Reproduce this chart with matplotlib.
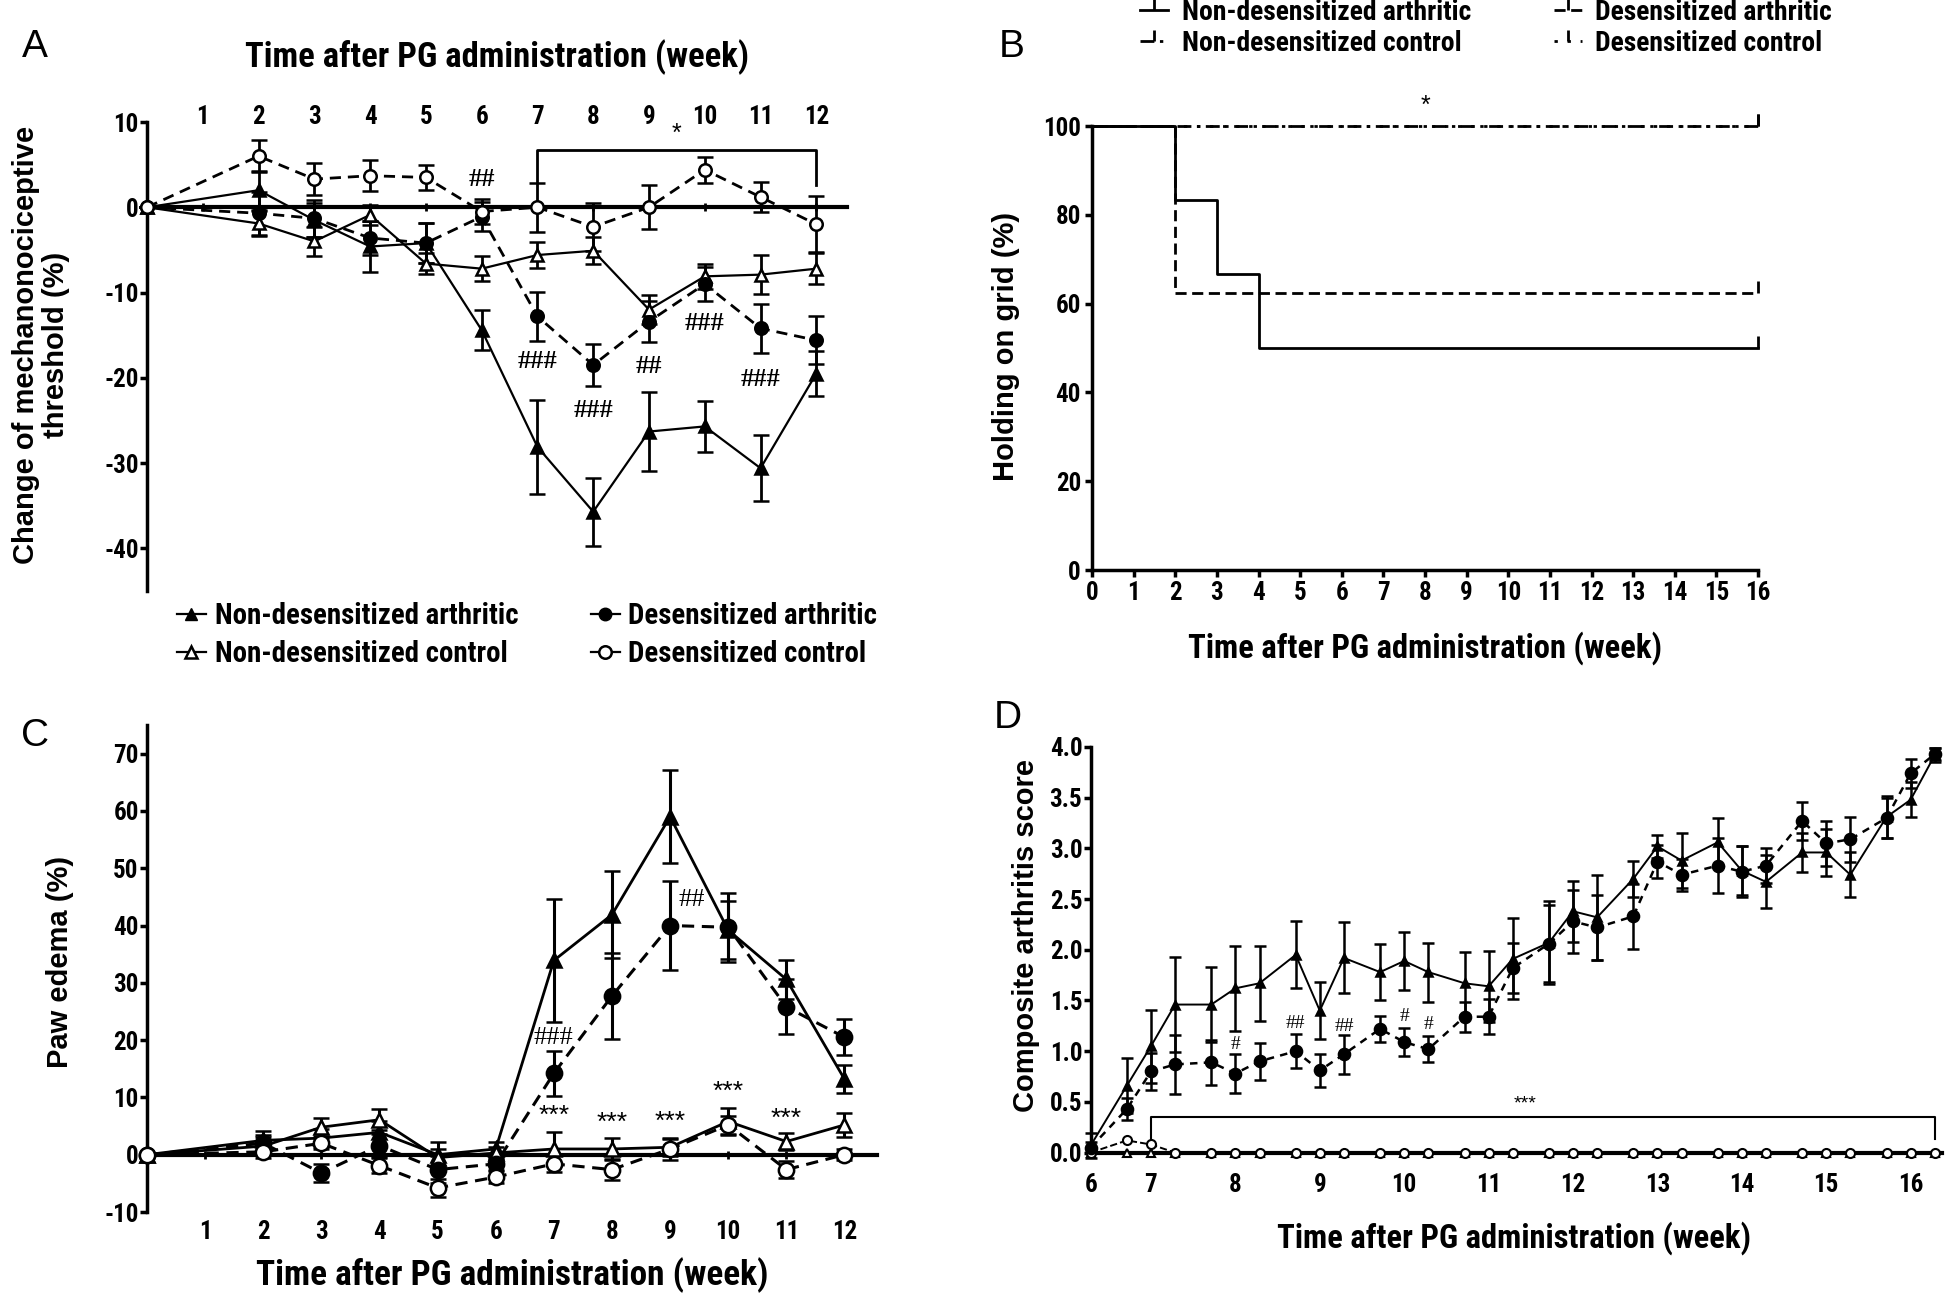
import matplotlib
matplotlib.use("Agg")
import matplotlib.pyplot as plt
from matplotlib import font_manager as fm
from matplotlib.lines import Line2D

# the figure uses a condensed bold face for numbers and axis titles; use one if installed
NARROW = None
for name in ["Liberation Sans Narrow", "Roboto Condensed", "Open Sans Condensed", "Arial Narrow"]:
    try:
        fm.findfont(fm.FontProperties(family=name, weight="bold"), fallback_to_default=False)
        NARROW = name
        break
    except ValueError:
        pass

MAIN = ([NARROW] if NARROW else []) + ["Liberation Sans", "DejaVu Sans"]
K = 1.12 if NARROW else 1.0
LEG_WEIGHT = "bold" if NARROW else "normal"

plt.rcParams["font.family"] = MAIN
plt.rcParams["font.weight"] = "bold"
plt.rcParams["font.size"] = 18
plt.rcParams["axes.unicode_minus"] = False

WIDE = ["Liberation Sans", "DejaVu Sans"]
SERIF = ["Liberation Serif", "DejaVu Serif"]

# ---------------- data: panel A (mechanonociceptive threshold, %) ----------------
weeks = [0, 2, 3, 4, 5, 6, 7, 8, 9, 10, 11, 12]
week_labels = [1, 2, 3, 4, 5, 6, 7, 8, 9, 10, 11, 12]

a_nda = [0, 2.0, -1.5, -4.6, -4.2, -14.4, -28.1, -35.7, -26.3, -25.7, -30.6, -19.5]
a_nda_err = [0, 2.3, 2.0, 3.0, 2.3, 2.3, 5.5, 4.0, 4.6, 3.0, 3.9, 2.6]
a_ndc = [0, -1.9, -4.0, -0.9, -6.6, -7.2, -5.6, -5.1, -12.0, -8.1, -7.9, -7.2]
a_ndc_err = [0, 1.5, 1.7, 1.2, 1.2, 1.5, 1.5, 1.6, 1.7, 1.5, 2.3, 1.8]
a_da = [0, -0.7, -1.3, -3.6, -4.2, -1.1, -12.8, -18.5, -13.4, -9.0, -14.2, -15.6]
a_da_err = [0, 2.5, 2.2, 2.0, 2.3, 1.7, 2.9, 2.5, 2.4, 2.0, 2.9, 2.8]
a_dc = [0, 6.0, 3.3, 3.7, 3.5, -0.5, 0.0, -2.3, 0.0, 4.4, 1.2, -2.0]
a_dc_err = [0, 1.9, 1.9, 1.8, 1.5, 1.5, 2.9, 2.8, 2.6, 1.5, 1.8, 3.3]

a_marks = [("##", 6, 3.2), ("###", 7, -18.1), ("###", 8, -23.8), ("##", 9, -18.7),
           ("###", 10, -13.6), ("###", 11, -20.2)]

# ---------------- data: panel B (holding on grid, %) ----------------
b_nda_t = [0, 2, 3, 4, 16]
b_nda_v = [100, 83.3, 66.7, 50, 50]
b_da_t = [0, 2, 16]
b_da_v = [100, 62.5, 62.5]
b_ndc_t = [0, 16]
b_ndc_v = [100, 100]
b_dc_t = [0, 16]
b_dc_v = [100, 100]
b_weeks = list(range(0, 17))

# ---------------- data: panel C (paw edema, %) ----------------
c_nda = [0, 2.5, 2.9, 3.9, 0.0, 1.0, 33.9, 41.9, 59.0, 39.2, 30.6, 13.2]
c_nda_err = [0, 1.6, 1.5, 2.0, 2.3, 1.3, 10.8, 7.6, 8.1, 5.0, 3.4, 2.5]
c_ndc = [0, 1.5, 4.8, 6.1, -0.5, 0.3, 1.0, 1.0, 1.3, 5.8, 2.3, 5.2]
c_ndc_err = [0, 1.6, 1.6, 1.8, 1.5, 1.0, 2.9, 1.9, 1.5, 2.3, 1.5, 2.1]
c_da = [0, 2.0, -3.2, 1.6, -2.6, -1.6, 14.2, 27.7, 40.0, 39.7, 25.8, 20.5]
c_da_err = [0, 1.5, 1.5, 2.0, 2.3, 1.0, 3.9, 7.5, 7.8, 6.0, 4.8, 3.1]
c_dc = [0, 0.5, 2.0, -1.9, -5.8, -3.9, -1.6, -2.6, 1.0, 5.2, -2.6, 0.0]
c_dc_err = [0, 1.0, 1.0, 1.3, 1.5, 1.0, 1.5, 1.9, 2.0, 1.5, 1.5, 1.0]

c_marks = [("###", 7, 20.3, SERIF), ("##", 9.37, 44.5, SERIF),
           ("***", 7, 6.8, WIDE), ("***", 8, 5.5, WIDE), ("***", 9, 5.8, WIDE),
           ("***", 10, 11.0, WIDE), ("***", 11, 6.3, WIDE)]

# ---------------- data: panel D (composite arthritis score) ----------------
d_days = [42, 45, 47, 49, 52, 54, 56, 59, 61, 63, 66, 68, 70, 73, 75, 77,
          80, 82, 84, 87, 89, 91, 94, 96, 98, 101, 103, 105, 108, 110, 112]
d_tick_days = [42, 47, 54, 61, 68, 75, 82, 89, 96, 103, 110]
d_tick_labels = ["6", "7", "8", "9", "10", "11", "12", "13", "14", "15", "16"]

d_nda = [0.07, 0.66, 1.05, 1.46, 1.46, 1.62, 1.67, 1.95, 1.40, 1.92, 1.78, 1.89, 1.78, 1.67, 1.64, 1.91,
         2.07, 2.38, 2.32, 2.70, 3.02, 2.88, 3.06, 2.78, 2.67, 2.96, 2.96, 2.74, 3.31, 3.48, 3.92]
d_nda_err = [0.12, 0.27, 0.36, 0.47, 0.37, 0.42, 0.37, 0.33, 0.28, 0.35, 0.28, 0.29, 0.29, 0.31, 0.35, 0.40,
             0.41, 0.30, 0.42, 0.18, 0.11, 0.27, 0.24, 0.24, 0.26, 0.19, 0.23, 0.22, 0.21, 0.17, 0.07]
d_da = [0.05, 0.43, 0.80, 0.87, 0.89, 0.78, 0.90, 1.00, 0.81, 0.97, 1.22, 1.09, 1.02, 1.34, 1.34, 1.82,
        2.06, 2.28, 2.22, 2.33, 2.87, 2.74, 2.83, 2.77, 2.83, 3.27, 3.05, 3.09, 3.30, 3.74, 3.93]
d_da_err = [0.05, 0.11, 0.18, 0.29, 0.22, 0.19, 0.18, 0.17, 0.16, 0.19, 0.13, 0.14, 0.13, 0.15, 0.17, 0.25,
            0.38, 0.31, 0.32, 0.32, 0.16, 0.16, 0.27, 0.25, 0.17, 0.19, 0.22, 0.22, 0.20, 0.14, 0.06]
d_ndc = [0, 0, 0, 0, 0, 0, 0, 0, 0, 0, 0, 0, 0, 0, 0, 0,
         0, 0, 0, 0, 0, 0, 0, 0, 0, 0, 0, 0, 0, 0, 0]
d_dc = [0, 0.12, 0.08, 0, 0, 0, 0, 0, 0, 0, 0, 0, 0, 0, 0, 0,
        0, 0, 0, 0, 0, 0, 0, 0, 0, 0, 0, 0, 0, 0, 0]

d_marks = [("#", 54, 1.07), ("##", 59, 1.27), ("##", 63, 1.24), ("#", 68, 1.34), ("#", 70, 1.26)]

W, H = 1945, 1300
fig = plt.figure(figsize=(W / 100, H / 100), dpi=100)


def box(x0, x1, y_top, y_bot):
    # pixel rectangle -> figure fraction
    return [x0 / W, 1 - y_bot / H, (x1 - x0) / W, (y_bot - y_top) / H]


def series(ax, x, y, err, fmt, filled, ms, lw, elw, cap, dashes=None):
    kw = dict(fmt=fmt, color="black", ecolor="black", mec="black",
              mfc="black" if filled else "white", ms=ms, mew=1.8, lw=lw,
              elinewidth=elw, capsize=cap, capthick=elw, clip_on=False, zorder=3)
    if dashes:
        kw["dashes"] = dashes
    return ax.errorbar(x, y, yerr=err, **kw)


def label(x, y, text, **kw):
    fig.text(x / W, 1 - y / H, text, ha="center", va="center", **kw)


XL = 21 * K      # axis titles
LEG = 20 * K     # legend text

# ================= Panel A =================
axA = fig.add_axes(box(147, 847, 122, 591))
axA.set_xlim(0, 12.55)
axA.set_ylim(-45, 10)
for s in ("top", "right"):
    axA.spines[s].set_visible(False)
axA.spines["bottom"].set_position(("data", 0))
axA.spines["bottom"].set_linewidth(3)
axA.spines["left"].set_linewidth(2.5)
axA.set_xticks(week_labels)
axA.tick_params(axis="x", direction="inout", length=6, width=2, labelbottom=False)
axA.set_yticks([10, 0, -10, -20, -30, -40])
axA.tick_params(axis="y", length=5, width=2.5, pad=1)
topA = axA.secondary_xaxis("top")
topA.set_xticks(week_labels)
topA.tick_params(length=0, pad=-5)
topA.spines["top"].set_visible(False)

series(axA, weeks, a_nda, a_nda_err, "-^", True, 9, 1.6, 2, 6)
series(axA, weeks, a_ndc, a_ndc_err, "-^", False, 9, 1.6, 2, 6)
series(axA, weeks, a_da, a_da_err, "--o", True, 9, 2, 2, 6, dashes=(4, 2.5))
series(axA, weeks, a_dc, a_dc_err, "--o", False, 9, 2, 2, 6, dashes=(4, 2.5))

for txt, x, y in a_marks:
    axA.text(x, y, txt, ha="center", va="center", family=SERIF, size=19)
axA.plot([7, 7, 12, 12], [3.0, 6.7, 6.7, 2.6], color="black", lw=2)
axA.text(9.5, 8.6, "*", ha="center", va="center", family=WIDE, weight="normal", size=18)

label(497, 57, "Time after PG administration (week)", size=XL * 1.06)
label(41, 345, "Change of mechanonociceptive\nthreshold (%)", rotation=90, family=WIDE,
      size=21, linespacing=1.1)
label(35, 47, "A", family=WIDE, weight="normal", size=28)

legA = [Line2D([], [], color="black", marker="^", mfc="black", ms=9, lw=1.6),
        Line2D([], [], color="black", marker="^", mfc="white", mew=1.8, ms=9, lw=1.6),
        Line2D([], [], color="black", marker="o", mfc="black", ms=9, lw=1.6),
        Line2D([], [], color="black", marker="o", mfc="white", mew=1.8, ms=9, lw=1.6)]
fig.legend(legA, ["Non-desensitized arthritic", "Non-desensitized control",
                  "Desensitized arthritic", "Desensitized control"],
           loc="upper left", bbox_to_anchor=(177 / W, 1 - 602 / H), ncol=2, frameon=False,
           prop={"family": MAIN, "weight": LEG_WEIGHT, "size": LEG * 0.93},
           handlelength=1.0, handletextpad=0.3, columnspacing=2.5, labelspacing=0.36,
           borderpad=0, borderaxespad=0)

# ================= Panel B =================
axB = fig.add_axes(box(1092, 1758, 126, 570))
axB.set_xlim(0, 16)
axB.set_ylim(0, 100)
for s in ("top", "right"):
    axB.spines[s].set_visible(False)
for s in ("left", "bottom"):
    axB.spines[s].set_linewidth(2.5)
axB.set_xticks(b_weeks)
axB.set_yticks([0, 20, 40, 60, 80, 100])
axB.tick_params(length=5, width=2.5, pad=3)

dash_nda, dash_da, dash_ndc, dash_dc = None, (4, 2), (5, 2, 1.2, 2), (1.2, 3.5)
for t, v, dash in [(b_nda_t, b_nda_v, dash_nda), (b_da_t, b_da_v, dash_da),
                   (b_ndc_t, b_ndc_v, dash_ndc), (b_dc_t, b_dc_v, dash_dc)]:
    kw = dict(color="black", lw=2, where="post", clip_on=False, zorder=3)
    if dash:
        kw["dashes"] = dash
    axB.step(t, v, **kw)
    axB.plot(t[-1], v[-1], marker=2, ms=9, mew=2, color="black", clip_on=False)
axB.text(8, 104.5, "*", ha="center", va="center", family=WIDE, weight="normal", size=18)

label(1425, 648, "Time after PG administration (week)", size=XL)
label(1006, 346, "Holding on grid (%)", rotation=90, family=WIDE, size=21)
label(1012, 47, "B", family=WIDE, weight="normal", size=28)

legB = []
for dash in (dash_nda, dash_da, dash_ndc, dash_dc):
    h = Line2D([], [], color="black", lw=2, marker=2, ms=8, mew=2)
    if dash:
        h.set_dashes(dash)
    legB.append(h)
fig.legend([legB[0], legB[2], legB[1], legB[3]],
           ["Non-desensitized arthritic", "Non-desensitized control",
            "Desensitized arthritic", "Desensitized control"],
           loc="upper left", bbox_to_anchor=(1140 / W, 1 + 1 / H), ncol=2, frameon=False,
           prop={"family": MAIN, "weight": LEG_WEIGHT, "size": LEG * 0.89},
           handlelength=1.0, handletextpad=0.5, columnspacing=3.0, labelspacing=0.14,
           borderpad=0, borderaxespad=0)

# ================= Panel C =================
axC = fig.add_axes(box(147, 877, 725, 1212))
axC.set_xlim(0, 12.56)
axC.set_ylim(-10, 75)
for s in ("top", "right"):
    axC.spines[s].set_visible(False)
axC.spines["bottom"].set_position(("data", 0))
axC.spines["bottom"].set_linewidth(3)
axC.spines["left"].set_linewidth(2.5)
axC.set_xticks(week_labels)
axC.tick_params(axis="x", direction="inout", length=6, width=2, labelbottom=False)
axC.set_yticks([-10, 0, 10, 20, 30, 40, 50, 60, 70])
axC.tick_params(axis="y", length=5, width=2.5, pad=1)
botC = axC.secondary_xaxis("bottom")
botC.set_xticks(week_labels)
botC.tick_params(length=0, pad=6)
botC.spines["bottom"].set_visible(False)

series(axC, weeks, c_nda, c_nda_err, "-^", True, 10, 2, 2.2, 6)
series(axC, weeks, c_ndc, c_ndc_err, "-^", False, 10, 2, 2.2, 6)
series(axC, weeks, c_da, c_da_err, "--o", True, 11, 2.2, 2.2, 6, dashes=(4, 2.5))
series(axC, weeks, c_dc, c_dc_err, "--o", False, 11, 2.2, 2.2, 6, dashes=(4, 2.5))

for txt, x, y, fam in c_marks:
    axC.text(x, y, txt, ha="center", va="center", family=fam, weight="normal", size=19)

label(512, 1275, "Time after PG administration (week)", size=XL * 1.08)
label(60, 962, "Paw edema (%)", rotation=90, family=WIDE, size=21)
label(35, 736, "C", family=WIDE, weight="normal", size=28)

# ================= Panel D =================
axD = fig.add_axes(box(1090.7, 1942, 747, 1152.6))
axD.set_xlim(42, 112.6)
axD.set_ylim(0, 4.0)
for s in ("top", "right"):
    axD.spines[s].set_visible(False)
axD.spines["bottom"].set_linewidth(3)
axD.spines["left"].set_linewidth(2.5)
axD.set_xticks(d_tick_days)
axD.set_xticklabels(d_tick_labels)
axD.tick_params(axis="x", length=3, width=2, pad=11.5)
axD.set_yticks([0, 0.5, 1.0, 1.5, 2.0, 2.5, 3.0, 3.5, 4.0])
axD.set_yticklabels(["%.1f" % v for v in axD.get_yticks()])
axD.tick_params(axis="y", length=5, width=2.5, pad=1)

series(axD, d_days, d_nda, d_nda_err, "-^", True, 6, 1.4, 1.8, 4)
series(axD, d_days, d_da, d_da_err, "--o", True, 8, 1.8, 1.8, 4, dashes=(3, 2.5))
axD.plot(d_days, d_ndc, "-^", color="black", mfc="white", mew=1.5, ms=6, lw=1.4, clip_on=False, zorder=3)
axD.plot(d_days, d_dc, "--o", color="black", mfc="white", mew=1.5, ms=6.5, lw=1.4, clip_on=False, zorder=3)

for txt, x, y in d_marks:
    axD.text(x, y, txt, ha="center", va="center", family=SERIF, weight="normal", size=14)
axD.plot([47, 47, 112, 112], [0.12, 0.35, 0.35, 0.13], color="black", lw=1.5)
axD.text(78, 0.48, "***", ha="center", va="center", family=WIDE, weight="normal", size=14)

label(1514, 1238, "Time after PG administration (week)", size=XL)
label(1026, 935, "Composite arthritis score", rotation=90, family=WIDE, size=21)
label(1008, 718, "D", family=WIDE, weight="normal", size=28)

fig.savefig("out.png", dpi=100, facecolor="white")
